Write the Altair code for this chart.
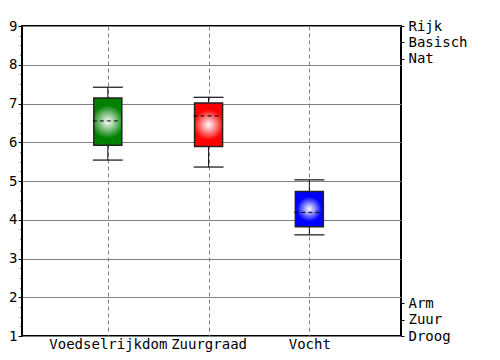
import altair as alt
import pandas as pd

categories = ["Voedselrijkdom", "Zuurgraad", "Vocht"]
positions = [1, 2, 3]
whisker_low = [5.54, 5.36, 3.61]
q1 = [5.92, 5.89, 3.82]
median = [6.55, 6.68, 4.19]
q3 = [7.14, 7.01, 4.73]
whisker_high = [7.42, 7.16, 5.03]
colors = ["#008000", "#ff0000", "#0000ff"]

right_values = [9, 8.58, 8.15, 1.85, 1.42, 1]
right_labels = ["Rijk", "Basisch", "Nat", "Arm", "Zuur", "Droog"]

df = pd.DataFrame({
    "cat": categories, "pos": positions, "lo": whisker_low, "q1": q1,
    "med": median, "q3": q3, "hi": whisker_high,
})

FONT = "DejaVu Sans Mono"
xscale = alt.Scale(domain=[0.198, 3.86], nice=False, zero=False)
yscale = alt.Scale(domain=[1, 9], nice=False, zero=False)

x_label_expr = "[" + ",".join("'%s'" % c for c in categories) + "][indexof([" + \
    ",".join(str(p) for p in positions) + "], datum.value)]"
right_label_expr = "[" + ",".join("'%s'" % c for c in right_labels) + "][indexof([" + \
    ",".join(str(v) for v in right_values) + "], datum.value)]"

minor_vals = [i + f for i in range(1, 9) for f in (0.25, 0.5, 0.75)]

base = alt.Chart(df)

x_main = alt.X("pos:Q", scale=xscale, title=None,
               axis=alt.Axis(values=positions, labelExpr=x_label_expr, ticks=False,
                             domain=False, grid=True, gridColor="#808080",
                             gridDash=[4, 3], gridWidth=1, labelBaseline="top",
                             labelPadding=1, labelFont=FONT, labelFontSize=14,
                             labelColor="black", labelOverlap=False))
x_plain = alt.X("pos:Q", scale=xscale, title=None)

whisker = base.mark_rule(color="#111", strokeWidth=1).encode(
    x=x_main,
    y=alt.Y("lo:Q", scale=yscale, title=None,
            axis=alt.Axis(orient="left", values=list(range(1, 10)), tickSize=4,
                          tickColor="black", domain=False, grid=True,
                          gridColor="#808080", gridWidth=1, labelPadding=1,
                          labelFont=FONT, labelFontSize=14, labelColor="black")),
    y2="hi:Q",
)

cap_hi = base.mark_rule(color="#111", strokeWidth=1.2, xOffset=-15, x2Offset=15).encode(
    x=x_plain, x2="pos:Q",
    y=alt.Y("hi:Q", scale=yscale, title=None,
            axis=alt.Axis(orient="left", values=minor_vals, tickSize=2,
                          tickColor="black", domain=False, grid=False, labels=False)),
)

cap_lo = base.mark_rule(color="#111", strokeWidth=1.2, xOffset=-15, x2Offset=15).encode(
    x=x_plain, x2="pos:Q",
    y=alt.Y("lo:Q", scale=yscale, title=None,
            axis=alt.Axis(orient="right", values=right_values, labelExpr=right_label_expr,
                          tickSize=3, tickColor="black", domain=False, grid=False,
                          labelPadding=4, labelFont=FONT, labelFontSize=14,
                          labelColor="black", labelOverlap=False)),
)

boxes = []
for cat, col in zip(categories, colors):
    grad = {
        "gradient": "radial",
        "x1": 0.5, "y1": 0.5, "r1": 0,
        "x2": 0.5, "y2": 0.5, "r2": 0.5,
        "stops": [{"offset": 0, "color": "white"}, {"offset": 0.7, "color": col}],
    }
    boxes.append(
        base.transform_filter(alt.datum.cat == cat)
        .mark_bar(size=28, fill=grad, stroke="#222", strokeWidth=1.5)
        .encode(
            x=x_plain,
            y=alt.Y("q1:Q", scale=yscale, title=None, axis=None),
            y2="q3:Q",
        )
    )

med = base.mark_rule(color="black", strokeWidth=1, strokeDash=[4, 3],
                     xOffset=-15, x2Offset=12).encode(
    x=x_plain, x2="pos:Q",
    y=alt.Y("med:Q", scale=yscale, title=None, axis=None),
)

chart = alt.layer(whisker, cap_hi, cap_lo, *boxes, med).resolve_axis(
    y="independent"
).properties(
    width=379, height=310,
    autosize=alt.AutoSizeParams(type="none"),
    padding={"left": 14, "top": 18, "right": 91, "bottom": 16},
).configure_view(stroke="black", strokeWidth=2)

chart.save("out.html", embed_options={"renderer": "svg", "actions": False})
